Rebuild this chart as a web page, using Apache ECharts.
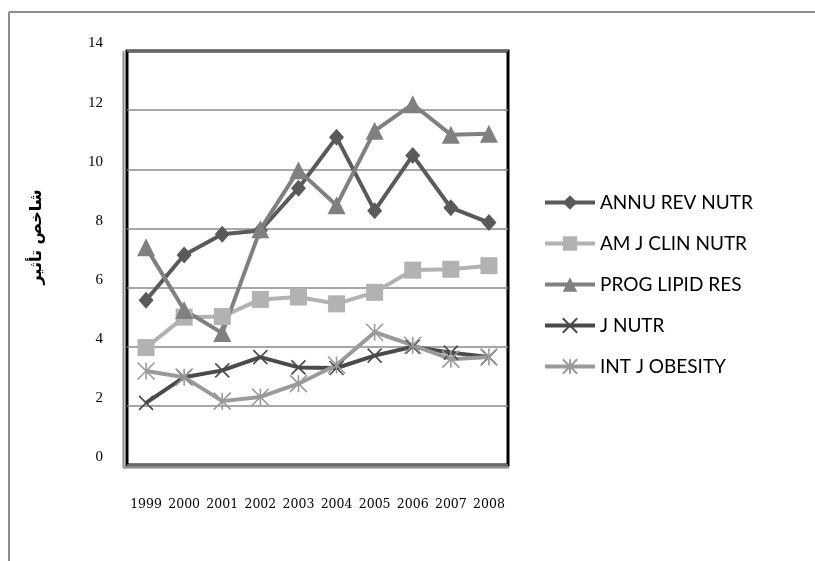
<!DOCTYPE html>
<html>
<head>
<meta charset="utf-8">
<script src="https://cdn.jsdelivr.net/npm/echarts@6/dist/echarts.min.js"></script>
<style>html,body{margin:0;padding:0;background:#fff}#c{width:815px;height:561px}</style>
</head>
<body>
<div id="c"></div>
<script>
const years = ['1999','2000','2001','2002','2003','2004','2005','2006','2007','2008'];
const annuRevNutr = [5.57, 7.1, 7.8, 7.93, 9.36, 11.08, 8.6, 10.47, 8.7, 8.2];
const amJClinNutr = [3.97, 5.0, 5.02, 5.6, 5.68, 5.45, 5.84, 6.59, 6.62, 6.74];
const progLipidRes = [7.36, 5.24, 4.46, 7.97, 9.97, 8.78, 11.3, 12.2, 11.17, 11.2];
const jNutr = [2.1, 2.97, 3.2, 3.65, 3.3, 3.28, 3.7, 4.0, 3.8, 3.65];
const intJObesity = [3.18, 2.97, 2.16, 2.3, 2.75, 3.38, 4.49, 4.05, 3.58, 3.65];
const yTicks = {min: 0, max: 14, interval: 2};
const yTitle = 'شاخص تأثیر';

const X_PATH = 'path://M0,0L10,10M10,0L0,10';
const STAR_PATH = 'path://M5,0L5,10M0,0L10,10M10,0L0,10';

function mk(name, data, color, symbol, size, stroke) {
  return {
    name, type: 'line', data,
    symbol, symbolSize: size,
    lineStyle: {color, width: 4},
    itemStyle: stroke ? {color, borderColor: color, borderWidth: 1.6} : {color, borderWidth: 0},
    emphasis: {disabled: true},
    animation: false
  };
}

const chart = echarts.init(document.getElementById('c'));
chart.setOption({
  backgroundColor: '#fff',
  animation: false,
  grid: {left: 127, right: 307, top: 51, bottom: 96, show: true, borderColor: '#000', borderWidth: 3, backgroundColor: 'transparent'},
  legend: {
    orient: 'vertical', left: 538, top: 188,
    itemWidth: 50, itemHeight: 18, itemGap: 22,
    lineStyle: {width: 4},
    textStyle: {fontFamily: 'Lato', fontSize: 19, color: '#000'},
    data: ['ANNU REV NUTR','AM J CLIN NUTR','PROG LIPID RES','J NUTR','INT J OBESITY']
  },
  xAxis: {
    type: 'category', data: years, boundaryGap: true,
    axisLine: {show: false}, axisTick: {show: false},
    axisLabel: {fontFamily: 'DejaVu Serif', fontSize: 12.5, color: '#000', margin: 33, interval: 0}
  },
  yAxis: {
    type: 'value', min: yTicks.min, max: yTicks.max, interval: yTicks.interval,
    axisLine: {show: false}, axisTick: {show: false},
    axisLabel: {fontFamily: 'Liberation Serif', fontSize: 15, color: '#000', margin: 24, verticalAlign: 'bottom'},
    splitLine: {lineStyle: {color: '#8a8a8a', width: 1.5}}
  },
  graphic: [
    {type: 'line', shape: {x1: 9, y1: 12, x2: 815, y2: 12}, style: {stroke: '#8c8c8c', lineWidth: 2}},
    {type: 'line', shape: {x1: 9, y1: 12, x2: 9, y2: 561}, style: {stroke: '#8c8c8c', lineWidth: 2}},
    {type: 'line', shape: {x1: 123.5, y1: 51, x2: 123.5, y2: 468}, style: {stroke: '#8c8c8c', lineWidth: 2}},
    {type: 'line', shape: {x1: 123, y1: 467.5, x2: 509, y2: 467.5}, style: {stroke: '#8c8c8c', lineWidth: 2}},
    {type: 'text', x: 37, y: 237, rotation: Math.PI / 2,
     style: {text: yTitle, font: 'bold 16px "DejaVu Sans"', fill: '#000', align: 'center', verticalAlign: 'middle'}}
  ],
  series: [
    mk('ANNU REV NUTR', annuRevNutr, '#5a5a5a', 'diamond', [15, 17]),
    mk('AM J CLIN NUTR', amJClinNutr, '#b2b2b2', 'rect', 17),
    mk('PROG LIPID RES', progLipidRes, '#808080', 'triangle', 18),
    mk('J NUTR', jNutr, '#4a4a4a', X_PATH, 14, true),
    mk('INT J OBESITY', intJObesity, '#9a9a9a', STAR_PATH, 17, true)
  ]
});
</script>
</body>
</html>
